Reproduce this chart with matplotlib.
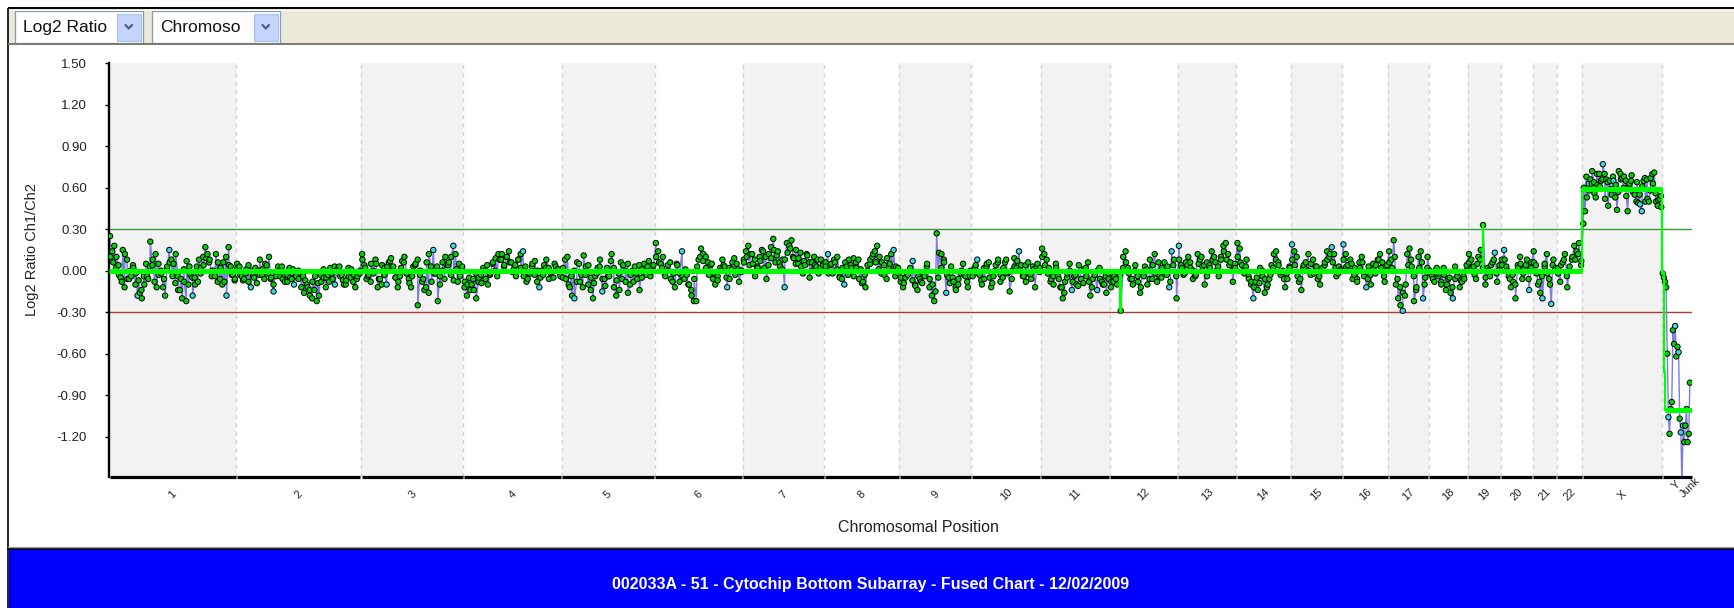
import numpy as np
import matplotlib
matplotlib.use('Agg')
import matplotlib.pyplot as plt
from matplotlib.patches import Rectangle
from matplotlib.transforms import blended_transform_factory

plt.rcParams['font.family'] = ['Liberation Sans', 'DejaVu Sans']

# ---------------- data ----------------
chrom_names = ['1', '2', '3', '4', '5', '6', '7', '8', '9', '10', '11', '12', '13',
               '14', '15', '16', '17', '18', '19', '20', '21', '22', 'X', 'Y', 'Junk']
chrom_sizes_mb = [247, 243, 199, 191, 181, 171, 159, 146, 140, 135, 134, 132, 114,
                  106, 100, 89, 79, 76, 64, 62, 47, 50, 155, 55, 3]

y_ticks = [1.50, 1.20, 0.90, 0.60, 0.30, 0.00, -0.30, -0.60, -0.90, -1.20]
gain_threshold = 0.30
loss_threshold = -0.30

# log2 ratios (x100) per chromosome, probe set A, in probe order
log2_chr1 = [25, 14, 18, 10, 4, -5, 15, 12, 8, -6, -4, 2, -10, -18, -16, -20, -4, 5, -6, 21,
             4, -8, -12, -3, 0, -12, -18, 3, 15, 8, 5, 12, -4, -14, -20, -8, -22, -10, -3, -18,
             -5, 3, 8, 2, 10, 17, 12, 8, -4, 0, 12, 6, -6, -10, -8, -18, 17, 3, -3, -6]
log2_chr2 = [5, 3, -4, -6, 1, -8, -12, -4, 2, 0, 8, -3, -6, 4, 10, -5, -15, -2, 3, -4,
             -6, -8, -3, 2, -6, -10, -4, 0, -2, -4, -7, -12, -18, -20, -14, -22, -18, -8, -5, -12,
             -3, 2, -6, -10, 1, 3, -3, -10, -7, 2, -5, -8, -12, -4, 0]
log2_chr3 = [12, 4, -6, -3, 5, -2, 8, -12, -6, 4, 2, -10, 6, 9, 3, -5, -12, -4, 7, 10,
             -2, -6, -12, 3, 5, -25, -3, -8, -14, 6, 12, 3, 15, -2, -22, -10, 0, -6, 4, 6,
             10, 18, 12, -8, -4, 3]
log2_chr4 = [-12, -18, -5, -10, -14, -20, -8, -3, 2, -6, -10, -2, 5, 0, -4, 8, 12, 4, 10, 14,
             6, 1, -4, 8, 12, 14, 3, -6, -2, 5, -3, -8, -12, 0, 4, 8, 2, -2, -5, 3, 1, -4]
log2_chr5 = [-5, 8, 10, -12, -18, -20, -8, 5, -3, 11, 3, -10, -14, -20, -4, 2, 8, -15, -6, 2,
             -4, 12, -12, -18, -2, 6, 4, -8, -16, -10, 0, 3, -6, -14, 1, 5, -3, 7, -1, 4]
log2_chr6 = [20, 14, 5, 10, -4, 0, 6, -8, -12, 4, -2, 14, -6, -3, -10, -18, -22, -22, 8, 16,
             12, 10, 6, 4, -6, -10, -4, 2, 8, 3, -12, -6, 1, 9, 5, -8, 0]
log2_chr7 = [8, 14, 18, 12, 5, -4, 3, 10, 15, 2, -6, 12, 17, 23, 6, 14, 3, 8, -12, 20,
             18, 22, 9, 15, 5, 13, -2, 4, 11, -5, 6, 10, 3, -2, 8, 4]
log2_chr8 = [6, 12, 4, -2, 6, 10, -4, -6, -10, 3, 8, 2, -4, 6, 8, 1, -8, -12, 0, 5,
             10, 14, 18, 10, 6, -3, -6, 2, 12, 15, 3, -2]
log2_chr9 = [-8, -12, -5, -3, 2, 7, -10, -14, -6, -9, -4, 5, -12, -18, -22, 27, 13, 12, 8, -16,
             -5, 3, -8, -14, -10, -2, 5, -4, -12, 0]
log2_chr10 = [-4, 2, 8, -3, -10, -6, 3, 6, -12, -4, 4, 8, -8, -5, 6, -2, -15, 0, 9, 2,
              14, 4, -4, -8, 6, -3, 3, -12, 5, 2]
log2_chr11 = [16, 12, 8, 2, -6, -10, 5, -4, -12, -20, -8, -2, 5, -14, -4, -10, 4, -6, -9, 2,
              6, -18, -6, -3, -14, 2, -8, -10, -16, -6]
log2_chr12 = [-12, -8, -6, -2, -29, 10, 14, 2, -6, -10, 4, -4, -16, -2, 3, -10, 8, -6, 12, -8,
              -4, 2, 6, -3, -12, 14, 8, -20]
log2_chr13 = [18, 4, -3, 6, 10, 2, -6, -4, 12, 8, 3, -10, 6, 4, 14, 10, 0, -4, 8, 18,
              20, 12, 6, -8, 2]
log2_chr14 = [20, 16, 4, -2, 8, -6, -10, -20, -8, -14, 2, -4, -16, -12, -6, 4, 12, 14, 6, -3,
              0, -12, -6, 2]
log2_chr15 = [19, 14, 10, -8, -14, 4, 1, 12, -3, 8, 3, -6, -10, 2, 6, 14, 10, 17, 12, -4, 3, 0]
log2_chr16 = [19, 12, 4, 8, -6, 2, -8, 6, 10, -4, -12, 3, -10, 5, -2, 8, 12, 6, -8, 4]
log2_chr17 = [14, 8, 22, -10, -20, -25, -29, -18, 12, 16, 3, -22, -14, 10, 14, -20, -5, 10]
log2_chr18 = [0, -4, -8, 2, -2, -10, 2, -14, -6, -16, -20, 3, -4, -12, -8, -6, 4]
log2_chr19 = [12, 8, 3, -6, 10, 15, 33, -10, 2, -4, 6, 13, -8, 4]
log2_chr20 = [8, 15, 3, -4, -12, -8, -20, 4, 10, -6, 2, 8, -14, 6]
log2_chr21 = [14, 4, -10, -16, -20, 3, 12, -6, -24, 8, 2]
log2_chr22 = [2, -8, 6, 12, -12, 0, 8, 18, 14, 20, 7]
log2_chrX = [34, 43, 53, 63, 66, 72, 64, 53, 62, 70, 65, 77, 70, 66, 47, 65, 55, 65, 53, 44,
             72, 70, 67, 68, 65, 43, 63, 65, 57, 55, 50, 49, 48, 43, 65, 50, 66, 50, 67, 70,
             71, 50, 47, 52, 46]
log2_chrY = [-2, -5, -8, -12, -60, -106, -118, -100, -95, -43, -53, -40, -62, -55, -59, -107,
             -117, -155, -112, -124, -112, -100, -124, -118, -81]
log2_chrJunk = []

# probe set B (x100), interleaved with set A along each chromosome
log2b_chr1 = [10, 6, 2, -3, -8, -12, -6, 0, 4, -2, -7, -14, -10, -4, 3, 8, 12, 5, -2, -6,
              2, 6, -4, -9, -14, -6, 1, 7, 3, -5, -10, -8, -2, 4, 9, 6, 0, -4, -8, 2,
              6, 10, 4, -3, -7]
log2b_chr2 = [2, -3, -7, -2, 4, 0, -5, -9, -3, 1, 5, -2, -6, -10, -4, 0, 3, -3, -8, -5,
              1, -2, -6, -12, -16, -10, -14, -8, -4, -9, -3, 1, -5, -8, -2, 3, 0, -4, -7, -10,
              -4, 1, -3, -6, -2]
log2b_chr3 = [8, 2, -4, -8, 0, 5, -6, -10, -3, 3, 7, 1, -5, -8, 2, 6, -2, -9, -4, 4,
              8, 0, -6, -12, -16, -8, -2, 3, -4, 6, 10, 4, -3, -7, 1, 5, 2]
log2b_chr4 = [-8, -10, -14, -6, -2, -5, -9, 0, 4, -3, 6, 9, 12, 8, 3, 10, 6, -1, 4, 8,
              2, -4, -8, -2, 3, 7, 0, -5, -3, 2, -6, -1, 5, 1, -2]
log2b_chr5 = [2, -6, -10, -4, 0, 6, -8, -12, -3, 4, -5, -9, -2, 3, -6, -11, -4, 7, 2, -7,
              -14, -6, 0, 5, -3, -8, -2, 4, -5, -1, 3, -4, 0]
log2b_chr6 = [10, 6, 2, -3, 4, -6, -2, 5, -8, -4, 1, -10, -14, -6, 3, 10, 7, 2, -3, 5,
              -2, -7, 0, 4, -5, 2, 6, -3, 1, -1]
log2b_chr7 = [6, 10, 4, 12, 8, 2, 7, 14, 10, 4, 9, 15, 11, 6, 1, 8, 13, 16, 10, 5,
              9, 3, 7, 12, 6, 0, 4, 8, 2, 5]
log2b_chr8 = [3, -2, 5, 8, 1, -5, 2, 6, -3, 4, 9, 2, -6, -9, -3, 4, 8, 12, 6, 1,
              -2, 4, 9, 5, 0, -4, 2]
log2b_chr9 = [-5, -9, -2, 0, -7, -11, -4, -8, -2, 3, -6, -10, -15, -5, 2, 6, -3, -9, -5, -12,
              -6, 0, -3, -8, -4]
log2b_chr10 = [0, 4, -2, -7, 2, 5, -5, -9, 0, 6, -3, 2, 8, -1, -6, 3, 7, 1, -4, 4,
               -2, -6, 1, 3, -1]
log2b_chr11 = [10, 4, -2, -8, -4, 2, -6, -12, -16, -5, 0, -8, -3, -11, -6, 1, -4, -8, -12, -3,
               0, -6, -10, -4, -2]
log2b_chr12 = [-8, -4, -10, -3, 2, 6, -2, -6, 0, -8, -12, -4, 1, -6, 4, -2, 6, -5, -1, 3,
               -8, 4, -4]
log2b_chr13 = [8, 2, -2, 4, 6, 0, -3, 5, 10, 4, -4, 2, 8, 6, 3, 10, 14, 8, 4, 0, 5]
log2b_chr14 = [10, 6, 0, 3, -4, -8, -12, -5, -9, 0, -6, -10, -3, 2, 8, 4, -1, -6, -2, 3]
log2b_chr15 = [8, 4, -4, -6, 2, 6, 0, 5, -2, 3, -4, 0, 4, 8, 12, 6, 2, -2, 1]
log2b_chr16 = [8, 3, 0, 5, -3, -6, 2, 6, -1, -6, -3, 1, 4, 8, 2, -4, 0]
log2b_chr17 = [6, 2, 10, -6, -12, -16, -10, 4, 8, -4, -12, 2, 6, -10, 2]
log2b_chr18 = [-2, -6, 0, -4, -8, -3, -10, -5, -12, -6, -1, -7, -4, 0]
log2b_chr19 = [6, 2, -3, 5, 8, 2, -5, 0, 4, 8, -2, 1]
log2b_chr20 = [4, 8, 0, -6, -3, -10, 2, 5, -2, 4, -6, 2]
log2b_chr21 = [6, -2, -8, -4, 5, -2, -10, 4, 0]
log2b_chr22 = [-2, 4, 8, -4, 3, 10, 8, 12, 4]
log2b_chrX = [60, 68, 58, 63, 56, 70, 61, 66, 52, 64, 59, 68, 62, 57, 66, 60, 54, 62, 69, 58,
              64, 55, 61, 67, 52, 58, 63, 56, 51, 54]
log2b_chrY = []
log2b_chrJunk = []

# probes (set A) drawn in cyan: (chromosome, probe index)
cyan_points = [('1', 13), ('1', 28), ('1', 39), ('1', 55), ('2', 6), ('2', 16), ('2', 25),
               ('2', 43), ('3', 11), ('3', 32), ('3', 41), ('4', 25), ('4', 32), ('5', 5),
               ('5', 17), ('6', 11), ('6', 30), ('7', 8), ('7', 18), ('8', 1), ('8', 8),
               ('8', 29), ('9', 5), ('9', 19), ('10', 2), ('10', 20), ('11', 13), ('11', 24),
               ('12', 24), ('12', 25), ('13', 0), ('14', 7), ('15', 0), ('15', 17), ('16', 0),
               ('16', 10), ('17', 6), ('17', 15), ('18', 10), ('19', 11), ('20', 1), ('20', 12),
               ('21', 4), ('21', 8), ('X', 3), ('X', 11), ('X', 17), ('X', 32), ('X', 33),
               ('Y', 5), ('Y', 11), ('Y', 14), ('Y', 16), ('Y', 18)]

# segmentation (fused) calls
seg_start_chrom = ['1', '12', '12', '19', '19', 'X', 'Y', 'Y', 'Y']
seg_start_mb = [0, 20.6, 21.8, 29.2, 30.2, 0, 0, 4, 6]
seg_end_chrom = ['12', '12', '19', '19', '22', 'X', 'Y', 'Y', 'Junk']
seg_end_mb = [20.6, 21.8, 29.2, 30.2, 50, 155, 4, 6, 3]
seg_level = [0.00, -0.29, 0.00, 0.33, 0.00, 0.59, -0.02, -0.73, -1.01]

title_text = '002033A - 51 - Cytochip Bottom Subarray - Fused Chart - 12/02/2009'

set_a = {'1': log2_chr1, '2': log2_chr2, '3': log2_chr3, '4': log2_chr4, '5': log2_chr5,
         '6': log2_chr6, '7': log2_chr7, '8': log2_chr8, '9': log2_chr9, '10': log2_chr10,
         '11': log2_chr11, '12': log2_chr12, '13': log2_chr13, '14': log2_chr14,
         '15': log2_chr15, '16': log2_chr16, '17': log2_chr17, '18': log2_chr18,
         '19': log2_chr19, '20': log2_chr20, '21': log2_chr21, '22': log2_chr22,
         'X': log2_chrX, 'Y': log2_chrY, 'Junk': log2_chrJunk}
set_b = {'1': log2b_chr1, '2': log2b_chr2, '3': log2b_chr3, '4': log2b_chr4, '5': log2b_chr5,
         '6': log2b_chr6, '7': log2b_chr7, '8': log2b_chr8, '9': log2b_chr9, '10': log2b_chr10,
         '11': log2b_chr11, '12': log2b_chr12, '13': log2b_chr13, '14': log2b_chr14,
         '15': log2b_chr15, '16': log2b_chr16, '17': log2b_chr17, '18': log2b_chr18,
         '19': log2b_chr19, '20': log2b_chr20, '21': log2b_chr21, '22': log2b_chr22,
         'X': log2b_chrX, 'Y': log2b_chrY, 'Junk': log2b_chrJunk}

# ---------------- geometry ----------------
offsets = {}
acc = 0.0
for n, s in zip(chrom_names, chrom_sizes_mb):
    offsets[n] = acc
    acc += s
total = acc
size_of = dict(zip(chrom_names, chrom_sizes_mb))

W, H = 1734, 608
fig = plt.figure(figsize=(W / 100, H / 100), dpi=100)

# background chrome (toolbar, frame, banner) in pixel coordinates
bg = fig.add_axes([0, 0, 1, 1], zorder=0)
bg.set_xlim(0, W)
bg.set_ylim(H, 0)
bg.axis('off')
bg.add_patch(Rectangle((8.5, 8.5), W, 35.5, facecolor='#ece9d8', edgecolor='none'))
bg.plot([8, W], [8, 8], color='black', lw=1.4, solid_capstyle='butt')
bg.plot([8, 8], [8, H], color='black', lw=1.2, solid_capstyle='butt')
bg.plot([9, W], [9.5, 9.5], color='#ffffff', lw=0.7)
bg.plot([9, W], [44, 44], color='#7a7a72', lw=1.4)

for (x0, label) in [(15, 'Log2 Ratio'), (152, 'Chromoso')]:
    bg.add_patch(Rectangle((x0, 11), 128, 31.5, facecolor='white', edgecolor='#7f9db9', lw=0.9))
    bx = x0 + 102
    bg.add_patch(Rectangle((bx, 13.5), 23.5, 27, facecolor='#c4d5fc', edgecolor='#aabff0', lw=0.8))
    bg.plot([bx + 8.5, bx + 11.75, bx + 15], [25, 28.5, 25], color='#4d6185', lw=1.6,
            solid_capstyle='round')
    bg.text(x0 + 8, 27.5, label, fontsize=12.5, ha='left', va='center', color='#111111')

bg.add_patch(Rectangle((8.5, 549), W, 60, facecolor='#0000ff', edgecolor='none'))
bg.plot([8, W], [547, 547], color='#9a9a9a', lw=0.8)
bg.plot([8, W], [548.5, 548.5], color='black', lw=1.2)
bg.text(871, 584, title_text, color='white', fontsize=11.5, fontweight='bold',
        ha='center', va='center')

# ---------------- main chart ----------------
ax_l, ax_r, ax_t, ax_b = 109, 1692, 63.3, 476.7
ax = fig.add_axes([ax_l / W, (H - ax_b) / H, (ax_r - ax_l) / W, (ax_b - ax_t) / H], zorder=2)
ax.set_facecolor('white')
ymin, ymax = -1.49, 1.50
ax.set_xlim(0, total)
ax.set_ylim(ymin, ymax)

# chromosome bands
for i, n in enumerate(chrom_names):
    if i % 2 == 0 and n not in ('Y', 'Junk'):
        ax.axvspan(offsets[n], offsets[n] + size_of[n], color='#f2f2f2', lw=0, zorder=0)
for n in chrom_names[1:24]:
    ax.axvline(offsets[n], color='#d2d2d2', lw=1.0, ls=(0, (3, 3)), zorder=0.5)

ax.axhline(gain_threshold, color='#3c9a3c', lw=1.0, zorder=1)
ax.axhline(loss_threshold, color='#a63a3a', lw=1.0, zorder=1)

# probes
xs, ys, cols = [], [], []
cyan_set = set(cyan_points)
for n in chrom_names:
    for which, src in (('a', set_a), ('b', set_b)):
        vals = src[n]
        cnt = len(vals)
        for i, v in enumerate(vals):
            xs.append(offsets[n] + (i + 0.5) / cnt * size_of[n])
            ys.append(v / 100.0)
            cols.append('#3ad9e6' if (which == 'a' and (n, i) in cyan_set) else '#00d400')
xs = np.array(xs)
ys = np.array(ys)
order = np.argsort(xs, kind='stable')
xs, ys = xs[order], ys[order]
cols = [cols[k] for k in order]
ax.plot(xs, ys, color='#7c7ce2', lw=1.0, zorder=2)
ax.scatter(xs, ys, s=15, c=cols, edgecolors='black', linewidths=0.7, zorder=3)

# segmentation
sx0 = [offsets[c] + m for c, m in zip(seg_start_chrom, seg_start_mb)]
sx1 = [offsets[c] + m for c, m in zip(seg_end_chrom, seg_end_mb)]
for i in range(len(seg_level)):
    ax.plot([sx0[i], sx1[i]], [seg_level[i], seg_level[i]], color='#00ff00', lw=3.6,
            solid_capstyle='butt', zorder=4)
    if i + 1 < len(seg_level):
        ax.plot([sx1[i], sx0[i + 1]], [seg_level[i], seg_level[i + 1]], color='#00ff00',
                lw=1.6, zorder=4)

# axes styling
for sp in ('top', 'right', 'bottom'):
    ax.spines[sp].set_visible(False)
ax.spines['left'].set_linewidth(1.7)
ax.spines['left'].set_color('black')
ax.set_yticks(y_ticks, [f'{v:.2f}' for v in y_ticks])
ax.tick_params(axis='y', direction='out', length=3, width=1, pad=13, labelsize=9.5,
               labelcolor='#222222')
ax.set_xticks([])

# bottom axis drawn per chromosome with small gaps
gap = 1.0
for n in chrom_names[:23]:
    ax.plot([offsets[n] + gap, offsets[n] + size_of[n] - gap], [ymin, ymin], color='black',
            lw=2.3, solid_capstyle='butt', clip_on=False, zorder=5)
ax.plot([offsets['Y'] + gap, total], [ymin, ymin], color='black', lw=2.3,
        solid_capstyle='butt', clip_on=False, zorder=5)

# chromosome labels
tr = blended_transform_factory(ax.transData, ax.transAxes)
for n in chrom_names:
    cx = offsets[n] + size_of[n] / 2.0
    yy = -0.044
    if n == 'Y':
        yy = -0.021
    if n == 'Junk':
        yy = -0.026
        cx = offsets[n] - 1.5
    ax.text(cx, yy, n, transform=tr, rotation=45, rotation_mode='anchor', ha='center',
            va='center', fontsize=8, color='#222222')

ax.set_xlabel('Chromosomal Position', fontsize=11.5, color='#222222')
ax.xaxis.set_label_coords((918 - ax_l) / (ax_r - ax_l), (ax_b - 527) / (ax_b - ax_t))
ax.xaxis.label.set_va('center')
ax.set_ylabel('Log2 Ratio Ch1/Ch2', fontsize=10.5, color='#222222')
ax.yaxis.set_label_coords((32 - ax_l) / (ax_r - ax_l), (ax_b - 250) / (ax_b - ax_t))
ax.yaxis.label.set_va('center')

fig.savefig('out.png', dpi=100)
